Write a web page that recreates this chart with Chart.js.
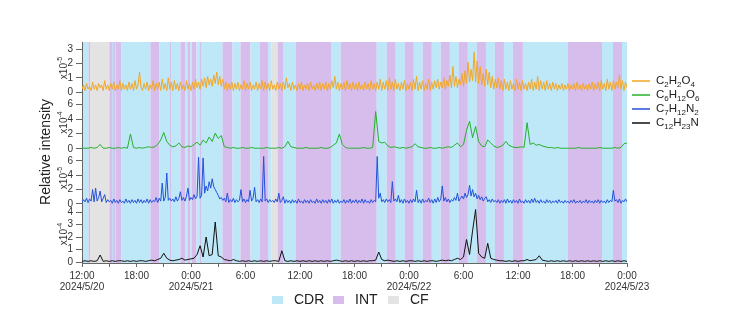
<!DOCTYPE html>
<html>
<head>
<meta charset="utf-8">
<title>Relative intensity time series</title>
<script src="https://cdn.jsdelivr.net/npm/chart.js@4.4.1/dist/chart.umd.min.js"></script>
<style>
  html, body { margin: 0; padding: 0; background: #fff; }
</style>
</head>
<body>
<canvas id="myChart" width="733" height="327"></canvas>
<script>
'use strict';

// sample spacing in hours, counted from 2024/5/20 12:00
let stepFine = 1 / 6;    // 10 min
let stepCoarse = 1 / 3;  // 20 min

// C2H2O4, units of 1e-5, 10 min samples
let c2h2o4 = [
  0.2,0.5,0.1,0.6,0.2,0.4,0.1,0.7,0.2,0.5,0.1,0.6,0.3,0.5,0.1,0.8,0.2,0.5,0.1,0.6,
  0.2,0.7,0.1,0.5,0.2,0.8,0.1,0.6,0.2,0.5,0.1,0.7,0.2,0.6,0.1,0.8,0.2,0.5,1.4,0.3,
  0.1,0.6,0.2,0.7,0.1,0.5,0.2,0.8,0.1,0.6,0.2,0.7,0.1,0.9,0.2,0.6,0.1,1.0,0.2,0.7,
  0.1,0.8,0.2,0.6,0.1,0.7,0.2,0.5,0.1,0.8,0.2,0.6,0.1,0.7,0.2,0.9,0.3,0.7,0.2,0.9,
  0.4,1.0,0.3,1.1,0.5,0.9,0.4,1.2,0.6,1.4,0.5,1.1,0.4,0.9,0.2,0.7,0.1,0.6,0.2,0.7,
  0.1,0.6,0.2,0.7,0.1,0.5,0.2,0.8,0.1,0.6,0.2,0.7,0.1,0.5,0.2,0.7,0.1,0.6,0.2,0.8,
  0.1,0.7,0.2,0.6,0.1,0.8,0.2,0.5,0.1,0.7,0.2,0.6,0.1,0.7,0.2,1.0,0.3,0.6,0.1,0.7,
  0.2,0.5,0.1,0.6,0.2,0.7,0.1,0.5,0.2,0.6,0.1,0.7,0.2,0.5,0.1,0.6,0.2,0.7,0.1,0.6,
  0.2,0.7,0.1,0.6,0.2,0.8,0.3,1.1,0.2,0.7,0.1,0.6,0.2,0.7,0.1,0.8,0.2,0.6,0.1,0.7,
  0.2,0.6,0.1,0.7,0.2,0.5,0.1,0.7,0.2,0.6,0.1,0.8,0.2,0.6,0.1,0.7,0.2,0.9,0.1,0.7,
  0.2,0.8,0.1,1.0,0.2,0.7,0.1,0.9,0.2,0.6,0.1,0.7,0.2,0.8,0.1,0.6,0.2,0.7,0.1,0.9,
  0.2,1.1,0.1,0.7,0.2,0.8,0.1,0.6,0.2,0.9,0.1,0.7,0.2,0.8,0.3,0.9,0.2,0.7,0.3,1.0,
  0.2,0.8,0.4,1.2,0.3,1.8,0.4,1.1,0.3,0.9,0.5,1.3,0.4,1.5,0.6,2.1,0.7,1.6,0.8,2.8,
  0.7,2.2,0.6,1.8,0.5,1.3,0.4,1.6,0.5,1.4,0.3,1.1,0.2,0.9,0.3,1.0,0.2,0.8,0.1,0.9,
  0.2,0.7,0.1,0.8,0.2,0.6,0.1,0.9,0.2,0.7,0.1,0.8,0.2,0.6,0.1,0.7,0.2,0.9,0.1,0.7,
  0.2,1.1,0.1,0.8,0.2,0.7,0.1,0.8,0.2,0.6,0.1,0.7,0.2,0.6,0.1,0.5,0.2,0.6,0.1,0.5,
  0.2,0.6,0.1,0.5,0.2,0.6,0.1,0.7,0.2,0.5,0.1,0.6,0.2,0.5,0.1,0.6,0.2,0.7,0.1,0.6,
  0.2,0.7,0.1,0.8,0.2,0.6,0.1,0.9,0.2,0.7,0.1,0.8,0.2,0.7,0.3,1.2,0.2,0.8,0.1,0.7,
  0.3
];

// C6H12O6, units of 1e-4, 20 min samples
let c6h12o6 = [
  0.1,0.1,0.1,0.2,0.1,0.2,0.6,0.1,0.1,0.2,
  0.1,0.1,0.2,0.1,0.2,0.1,2.0,0.2,0.1,0.2,
  0.1,0.2,0.3,0.2,0.3,0.6,1.2,2.2,1.0,0.5,
  0.3,0.4,0.8,0.3,0.2,0.4,0.3,0.6,0.9,0.5,
  1.2,0.8,1.6,1.0,2.1,1.4,1.8,0.3,0.2,0.1,
  0.2,0.1,0.1,0.2,0.1,0.1,0.2,0.1,0.1,0.1,
  0.1,0.2,0.1,0.1,0.1,0.2,0.1,0.3,1.0,0.3,
  0.2,0.1,0.1,0.1,0.2,0.1,0.1,0.1,0.1,0.2,
  0.1,0.1,0.2,0.5,0.8,2.0,0.6,0.2,0.1,0.1,
  0.1,0.1,0.1,0.2,0.1,0.1,0.2,5.0,1.0,0.8,
  0.9,0.4,0.2,0.3,0.2,0.1,0.2,0.1,0.2,0.3,
  0.7,0.3,0.2,0.1,0.1,0.2,0.1,0.1,0.2,0.1,
  0.2,0.3,0.2,0.5,0.8,0.3,0.6,2.5,3.7,1.5,
  3.0,1.0,0.4,0.3,1.2,0.8,0.4,0.2,0.3,0.5,
  1.0,0.5,0.3,0.2,0.2,0.3,0.2,3.5,0.6,0.8,
  0.5,0.6,0.4,0.3,0.2,0.2,0.1,0.2,0.1,0.1,
  0.1,0.1,0.1,0.1,0.2,0.1,0.1,0.1,0.1,0.1,
  0.1,0.2,0.1,0.1,0.1,0.1,0.2,0.1,0.2,0.7,0.8
];

// C7H12N2, units of 1e-5, 10 min samples
let c7h12n2 = [
  0.2,0.6,0.3,0.8,0.2,0.7,0.4,2.0,0.3,2.2,0.4,0.9,1.8,0.3,0.8,1.3,0.2,0.6,0.3,0.5,
  0.1,0.7,0.2,0.5,0.1,0.6,0.2,0.4,0.1,0.7,0.2,0.5,0.1,0.6,0.2,0.5,0.1,0.7,0.2,0.6,
  0.1,0.5,0.2,0.7,0.1,0.6,0.2,0.5,0.3,0.9,0.2,0.8,0.4,2.9,0.4,0.9,4.3,0.5,0.8,0.4,
  0.7,0.3,1.0,0.4,0.8,1.7,0.5,0.9,0.4,1.1,2.2,0.5,0.9,0.6,1.3,0.7,1.1,6.5,0.8,1.2,
  6.4,1.5,2.5,1.8,3.1,2.2,3.5,2.4,2.0,1.6,1.2,0.7,0.9,0.5,0.8,0.3,1.5,0.2,0.6,0.3,
  0.8,0.2,0.6,0.3,0.5,2.0,0.3,0.7,0.2,0.6,0.3,1.9,0.4,0.8,2.3,0.3,0.6,0.2,0.7,0.3,
  6.6,0.4,0.7,0.2,0.6,0.3,0.5,0.2,0.7,0.3,1.5,0.2,0.5,1.0,0.1,0.6,0.2,0.5,0.1,0.6,
  0.2,0.5,0.1,0.7,0.2,0.4,0.1,0.6,0.2,0.5,0.1,0.6,0.2,0.4,0.1,0.7,0.2,0.5,0.1,0.6,
  0.2,0.5,0.1,0.6,0.2,0.7,0.1,0.5,0.2,0.6,0.1,0.4,0.2,0.6,0.1,0.5,0.2,0.7,0.1,0.5,
  0.2,0.6,0.1,0.5,0.2,0.7,0.1,0.6,0.2,0.4,0.1,0.6,0.2,0.5,0.3,6.6,0.8,1.5,0.3,0.6,
  0.2,0.7,0.3,0.6,0.2,3.1,0.4,0.7,0.3,1.2,0.2,0.6,0.1,0.7,0.2,0.5,0.1,0.6,0.2,0.7,
  0.3,1.9,0.2,0.6,0.1,0.7,0.2,0.5,0.3,0.8,0.2,0.6,0.1,0.7,0.2,0.9,0.3,0.7,2.5,0.4,
  0.9,0.3,0.7,0.2,0.6,0.4,0.9,0.5,1.5,0.4,0.8,1.1,0.7,1.5,0.9,1.3,2.6,1.1,2.0,1.0,
  1.5,0.7,1.2,0.6,1.0,0.4,0.8,1.0,0.3,0.6,0.2,0.7,0.3,0.5,0.2,0.6,0.1,0.5,0.2,0.6,
  0.1,0.7,0.2,0.5,0.1,0.6,0.2,0.5,0.1,0.7,0.2,0.4,0.1,0.6,0.2,0.5,0.1,0.7,0.2,0.8,
  0.2,0.5,0.1,0.6,0.2,0.4,0.1,0.6,0.2,0.5,0.1,0.4,0.2,0.5,0.1,0.6,0.2,0.4,0.1,0.5,
  0.2,0.4,0.1,0.5,0.2,0.6,0.1,0.4,0.2,0.5,0.1,0.4,0.2,0.6,0.1,0.5,0.2,0.4,0.1,0.5,
  0.2,0.6,0.1,0.5,0.2,0.4,0.1,0.6,0.2,0.5,0.3,1.9,0.4,0.6,0.2,0.7,0.1,0.5,0.3,0.7,
  0.3
];

// C12H23N, units of 1e-4, 20 min samples
let c12h23n = [
  0.05,0.1,0.05,0.1,0.05,0.1,0.56,0.05,0.1,0.05,
  0.1,0.05,0.1,0.1,0.05,0.1,0.05,0.1,0.05,0.1,
  0.1,0.05,0.1,0.15,0.1,0.2,0.3,0.7,0.3,0.15,
  0.1,0.15,0.2,0.3,0.15,0.2,0.25,0.3,0.6,1.3,
  0.4,2.0,0.5,0.6,3.2,0.5,0.4,0.2,0.15,0.1,
  0.2,0.1,0.05,0.1,0.05,0.1,0.05,0.1,0.05,0.1,
  0.05,0.1,0.05,0.1,0.1,0.05,0.9,0.1,0.05,0.1,
  0.05,0.1,0.05,0.1,0.05,0.1,0.05,0.1,0.05,0.1,
  0.05,0.1,0.05,0.1,0.15,0.1,0.05,0.1,0.05,0.1,
  0.05,0.1,0.05,0.1,0.05,0.1,0.1,0.15,0.8,0.2,
  0.1,0.15,0.1,0.05,0.1,0.05,0.1,0.05,0.1,0.1,
  0.05,0.1,0.05,0.1,0.05,0.1,0.1,0.05,0.1,0.15,
  0.1,0.15,0.1,0.2,0.3,0.2,0.4,1.8,0.6,2.5,
  4.2,0.7,0.4,0.3,1.5,0.3,0.2,0.15,0.1,0.1,
  0.05,0.1,0.05,0.1,0.05,0.1,0.1,0.2,0.1,0.15,
  0.2,0.5,0.15,0.1,0.05,0.1,0.05,0.1,0.05,0.1,
  0.05,0.1,0.05,0.1,0.05,0.1,0.05,0.1,0.05,0.1,
  0.05,0.1,0.05,0.1,0.05,0.1,0.05,0.1,0.05,0.1,0.05
];

let seriesNames = ['C2H2O4', 'C6H12O6', 'C7H12N2', 'C12H23N'];
let seriesColors = ['#f5a623', '#27b02a', '#2451d8', '#111111'];
let panelExponents = ['-5', '-4', '-5', '-4'];

// y tick labels of each panel, top to bottom
let ticksY1 = [0, 1, 2, 3];
let ticksY2 = [0, 2, 4, 6];
let ticksY3 = [0, 2, 4, 6];
let ticksY4 = [0, 1, 2, 3, 4];

// x ticks every 3 h, labels every 6 h
let xTickPos = [0, 3, 6, 9, 12, 15, 18, 21, 24, 27, 30, 33, 36, 39, 42, 45, 48, 51, 54, 57, 60];
let xLabelPos = [0, 6, 12, 18, 24, 30, 36, 42, 48, 54, 60];
let xLabelText = [
  ['12:00', '2024/5/20'], '18:00', ['0:00', '2024/5/21'], '6:00', '12:00', '18:00',
  ['0:00', '2024/5/22'], '6:00', '12:00', '18:00', ['0:00', '2024/5/23']
];

// operating periods (hours from start)
let bandStart = [
  0.0, 0.72, 0.88, 3.02, 3.34, 3.62, 4.33, 7.53, 8.52, 9.68,
  10.84, 11.39, 11.61, 11.94, 12.1, 12.6, 13.0, 15.47, 16.57, 17.45,
  18.55, 19.55, 20.54, 20.87, 21.53, 22.2, 23.52, 27.48, 28.48, 32.45,
  33.55, 34.54, 35.54, 36.53, 37.52, 38.51, 39.5, 40.5, 41.49, 42.48,
  43.47, 44.47, 45.46, 46.45, 47.44, 48.54, 53.5, 57.25, 58.46, 59.45
];
let bandEnd = [
  0.72, 0.88, 3.02, 4.33, 3.45, 3.73, 7.53, 8.52, 10.84, 9.79,
  11.39, 11.61, 11.94, 12.1, 12.6, 15.47, 13.1, 16.57, 17.45, 18.55,
  19.55, 20.54, 20.87, 21.53, 22.2, 23.52, 27.48, 28.48, 32.45, 33.55,
  34.54, 35.54, 36.53, 37.52, 38.51, 39.5, 40.5, 41.49, 42.48, 43.47,
  44.47, 45.46, 46.45, 47.44, 48.54, 53.5, 57.25, 58.46, 59.45, 60
];
let bandType = [
  'CDR', 'INT', 'CF', 'INT', 'CDR', 'CDR', 'CDR', 'INT', 'CDR', 'INT',
  'INT', 'CDR', 'INT', 'CDR', 'INT', 'CDR', 'INT', 'INT', 'CDR', 'INT',
  'CDR', 'INT', 'CDR', 'CF', 'INT', 'CDR', 'INT', 'CDR', 'INT', 'CDR',
  'INT', 'CDR', 'INT', 'CDR', 'INT', 'CDR', 'INT', 'CDR', 'INT', 'CDR',
  'INT', 'CDR', 'INT', 'CDR', 'INT', 'CDR', 'INT', 'CDR', 'INT', 'CDR'
];
let bandNames = ['CDR', 'INT', 'CF'];
let bandColors = { CDR: '#bee7f8', INT: '#d6bdec', CF: '#e3e3e3' };

let fontFamily = '"Liberation Sans", Arial, sans-serif';

function toPoints(values, step){
  return values.map((v, i) => ({ x: i * step, y: v }));
}

function panelAxis(min, max, tickList, weight){
  return {
    type: 'linear',
    position: 'left',
    stack: 'panels',
    stackWeight: weight,
    min: min,
    max: max,
    afterBuildTicks: s => { s.ticks = tickList.map(v => ({ value: v })); },
    afterFit: s => { s.width = 82; s.paddingTop = 0; s.paddingBottom = 0; },
    grid: { drawOnChartArea: false, tickLength: 6, color: '#666' },
    border: { display: true, color: '#666' },
    ticks: { autoSkip: false, font: { size: 10, family: fontFamily }, color: '#333', padding: 3 }
  };
}

// draws a formula with its digits as subscripts
function drawFormula(ctx, text, x, y, size){
  let cx = x;
  for (let ch of text) {
    let isDigit = ch >= '0' && ch <= '9';
    ctx.font = (isDigit ? Math.round(size * 0.72) : size) + 'px ' + fontFamily;
    ctx.fillText(ch, cx, isDigit ? y + size * 0.3 : y);
    cx += ctx.measureText(ch).width;
  }
}

let bandPlugin = {
  id: 'bands',
  beforeDraw(chart){
    let { ctx, chartArea, scales } = chart;
    ctx.save();
    for (let i = 0; i < bandStart.length; i++) {
      let x1 = scales.x.getPixelForValue(bandStart[i]);
      let x2 = scales.x.getPixelForValue(bandEnd[i]);
      ctx.fillStyle = bandColors[bandType[i]];
      ctx.fillRect(x1, chartArea.top, Math.max(x2 - x1, 1), chartArea.bottom - chartArea.top);
    }
    ctx.restore();
  }
};

let labelPlugin = {
  id: 'labels',
  afterDraw(chart){
    let { ctx, scales } = chart;
    ctx.save();
    ctx.fillStyle = '#222';

    // shared y title
    ctx.save();
    ctx.translate(46, 152);
    ctx.rotate(-Math.PI / 2);
    ctx.font = '14px ' + fontFamily;
    ctx.textAlign = 'center';
    ctx.textBaseline = 'middle';
    ctx.fillText('Relative intensity', 0, 0);
    ctx.restore();

    // x10^n next to each panel
    ['y1', 'y2', 'y3', 'y4'].forEach((id, k) => {
      let s = scales[id];
      let cy = (s.top + s.bottom) / 2 - 1;
      ctx.save();
      ctx.translate(64, cy);
      ctx.rotate(-Math.PI / 2);
      ctx.textBaseline = 'middle';
      ctx.textAlign = 'left';
      ctx.fillStyle = '#333';
      ctx.font = '10px ' + fontFamily;
      let w1 = ctx.measureText('x10').width;
      ctx.font = '7px ' + fontFamily;
      let w2 = ctx.measureText(panelExponents[k]).width;
      let start = -(w1 + w2) / 2;
      ctx.font = '10px ' + fontFamily;
      ctx.fillText('x10', start, 0);
      ctx.font = '7px ' + fontFamily;
      ctx.fillText(panelExponents[k], start + w1, -4);
      ctx.restore();
    });

    // series legend on the right
    ctx.textBaseline = 'middle';
    ctx.textAlign = 'left';
    let rowY = [81, 95, 109, 123];
    for (let k = 0; k < seriesNames.length; k++) {
      ctx.strokeStyle = seriesColors[k];
      ctx.lineWidth = 1.5;
      ctx.beginPath();
      ctx.moveTo(632, rowY[k]);
      ctx.lineTo(650, rowY[k]);
      ctx.stroke();
      ctx.fillStyle = '#222';
      drawFormula(ctx, seriesNames[k], 656, rowY[k], 11.5);
    }

    // period legend below the axis
    let boxX = [272, 333, 388];
    ctx.font = '14px ' + fontFamily;
    for (let k = 0; k < bandNames.length; k++) {
      ctx.fillStyle = bandColors[bandNames[k]];
      ctx.fillRect(boxX[k], 296, 11, 8);
      ctx.fillStyle = '#222';
      ctx.fillText(bandNames[k], boxX[k] + 22, 300);
    }
    ctx.restore();
  }
};

const ctx = document.getElementById('myChart');

new Chart(ctx, {
  type: 'line',
  data: {
    datasets: [
      { label: seriesNames[0], data: toPoints(c2h2o4, stepFine), yAxisID: 'y1', borderColor: seriesColors[0] },
      { label: seriesNames[1], data: toPoints(c6h12o6, stepCoarse), yAxisID: 'y2', borderColor: seriesColors[1] },
      { label: seriesNames[2], data: toPoints(c7h12n2, stepFine), yAxisID: 'y3', borderColor: seriesColors[2] },
      { label: seriesNames[3], data: toPoints(c12h23n, stepCoarse), yAxisID: 'y4', borderColor: seriesColors[3] }
    ]
  },
  options: {
    responsive: false,
    animation: false,
    layout: { padding: { left: 0, top: 42, right: 106, bottom: 24 } },
    elements: {
      line: { borderWidth: 1, tension: 0 },
      point: { radius: 0 }
    },
    plugins: { legend: { display: false }, tooltip: { enabled: false } },
    scales: {
      x: {
        type: 'linear',
        min: 0,
        max: 60,
        afterBuildTicks: s => { s.ticks = xTickPos.map(v => ({ value: v })); },
        afterFit: s => { s.height = 40; s.paddingLeft = 0; s.paddingRight = 0; },
        grid: { drawOnChartArea: false, tickLength: 4, color: '#666' },
        border: { color: '#666' },
        ticks: {
          autoSkip: false,
          maxRotation: 0,
          padding: 3,
          color: '#333',
          font: { size: 10, family: fontFamily, lineHeight: 1.15 },
          callback: v => {
            let k = xLabelPos.indexOf(v);
            return k >= 0 ? xLabelText[k] : '';
          }
        }
      },
      // listed bottom to top: the last stacked axis is placed highest
      y4: panelAxis(-0.08, 4.4, ticksY4, 56),
      y3: panelAxis(-0.42, 7.36, ticksY3, 56),
      y2: panelAxis(-0.27, 7.07, ticksY2, 55),
      y1: panelAxis(-0.28, 3.52, ticksY1, 54)
    }
  },
  plugins: [bandPlugin, labelPlugin]
});
</script>
</body>
</html>
